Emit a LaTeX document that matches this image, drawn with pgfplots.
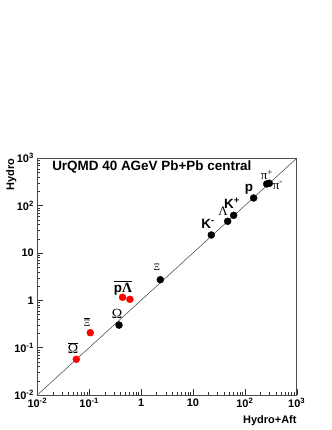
\documentclass[border=0pt]{standalone}
\usepackage{fontspec}
\setmainfont{Liberation Sans}
\newfontfamily\grk{Liberation Serif}
\usepackage{pgfplots}
\pgfplotsset{compat=1.18}

\newcommand{\ol}[1]{$\overline{\hbox{#1}}$}
\newcommand{\fs}[1]{\fontsize{#1}{#1}\selectfont}

\pgfplotstableread{
x      y
0.376  0.30
2.35   2.73
22.6   24
46.7   46.7
61     62.5
148    145
264    287
297    296
}\hydroblack

\pgfplotstableread{
x      y
0.0565 0.0568
0.105  0.207
0.44   1.16
0.61   1.05
}\hydrored

\begin{document}
\begin{tikzpicture}
\useasboundingbox (0,0) rectangle (332bp,430bp);
\begin{axis}[
  at={(37.3bp,35bp)}, anchor=south west,
  scale only axis, width=259.4bp, height=236.7bp,
  xmode=log, ymode=log,
  xmin=0.01, xmax=1000, ymin=0.01, ymax=1000,
  xtick={0.01,0.1,1,10,100,1000},
  ytick={0.01,0.1,1,10,100,1000},
  xticklabels={10\textsuperscript{-2},10\textsuperscript{-1},1,10,10\textsuperscript{2},10\textsuperscript{3}},
  yticklabels={10\textsuperscript{-2},10\textsuperscript{-1},1,10,10\textsuperscript{2},10\textsuperscript{3}},
  minor xtick={0.02,0.03,0.04,0.05,0.06,0.07,0.08,0.09,0.2,0.3,0.4,0.5,0.6,0.7,0.8,0.9,2,3,4,5,6,7,8,9,20,30,40,50,60,70,80,90,200,300,400,500,600,700,800,900},
  minor ytick={0.02,0.03,0.04,0.05,0.06,0.07,0.08,0.09,0.2,0.3,0.4,0.5,0.6,0.7,0.8,0.9,2,3,4,5,6,7,8,9,20,30,40,50,60,70,80,90,200,300,400,500,600,700,800,900},
  xtick pos=left, ytick pos=left,
  tick align=inside,
  major tick length=6bp, minor tick length=3bp,
  every tick/.style={black!80, line width=0.4pt},
  axis line style={black!70, line width=0.5pt},
  tick label style={font=\bfseries\fs{11}},
  clip=false,
]
\addplot[black!75, line width=0.5pt] coordinates {(0.01,0.01) (1000,1000)};
\addplot[only marks, mark=*, mark size=3.5pt, black] table {\hydroblack};
\addplot[only marks, mark=*, mark size=3.5pt, red] table {\hydrored};

\node[anchor=west, inner sep=0, font=\bfseries\fs{13.5}] at (rel axis cs:0.057,0.963) {UrQMD 40 AGeV Pb+Pb central};
\node[anchor=north east, inner sep=0, font=\bfseries\fs{11}] at ([yshift=-20bp]rel axis cs:1,0) {Hydro+Aft};
\node[anchor=east, rotate=90, inner sep=0, font=\bfseries\fs{11}] at ([xshift=-26bp]rel axis cs:0,1) {Hydro};

\node[inner sep=0, font=\grk\fs{13}] at (axis cs:266,445) {π\textsuperscript{+}};
\node[inner sep=0, font=\grk\fs{13}] at (axis cs:434,261) {π\textsuperscript{-}};
\node[inner sep=0, font=\bfseries\fs{13.5}] at (axis cs:120,225) {p};
\node[inner sep=0, font=\bfseries\fs{13.5}] at (axis cs:56.5,114) {K\textsuperscript{+}};
\node[inner sep=0, font=\grk\fs{13}] at (axis cs:37.9,77) {Λ};
\node[inner sep=0, font=\bfseries\fs{13.5}] at (axis cs:19.5,41) {K\textsuperscript{-}};
\node[inner sep=0, font=\grk\fs{10}] at (axis cs:2.02,5.06) {Ξ};
\node[inner sep=0, font=\fs{13.5}] at (axis cs:0.449,1.82) {\ol{\bfseries p{\grk\fs{14}Λ}}};
\node[inner sep=0, font=\grk\fs{14}] at (axis cs:0.344,0.514) {Ω};
\node[inner sep=0, font=\grk\fs{10}] at (axis cs:0.0908,0.348) {\ol{Ξ}};
\node[inner sep=0, font=\grk\fs{14}] at (axis cs:0.0488,0.0984) {\ol{Ω}};
\end{axis}
\end{tikzpicture}
\end{document}
